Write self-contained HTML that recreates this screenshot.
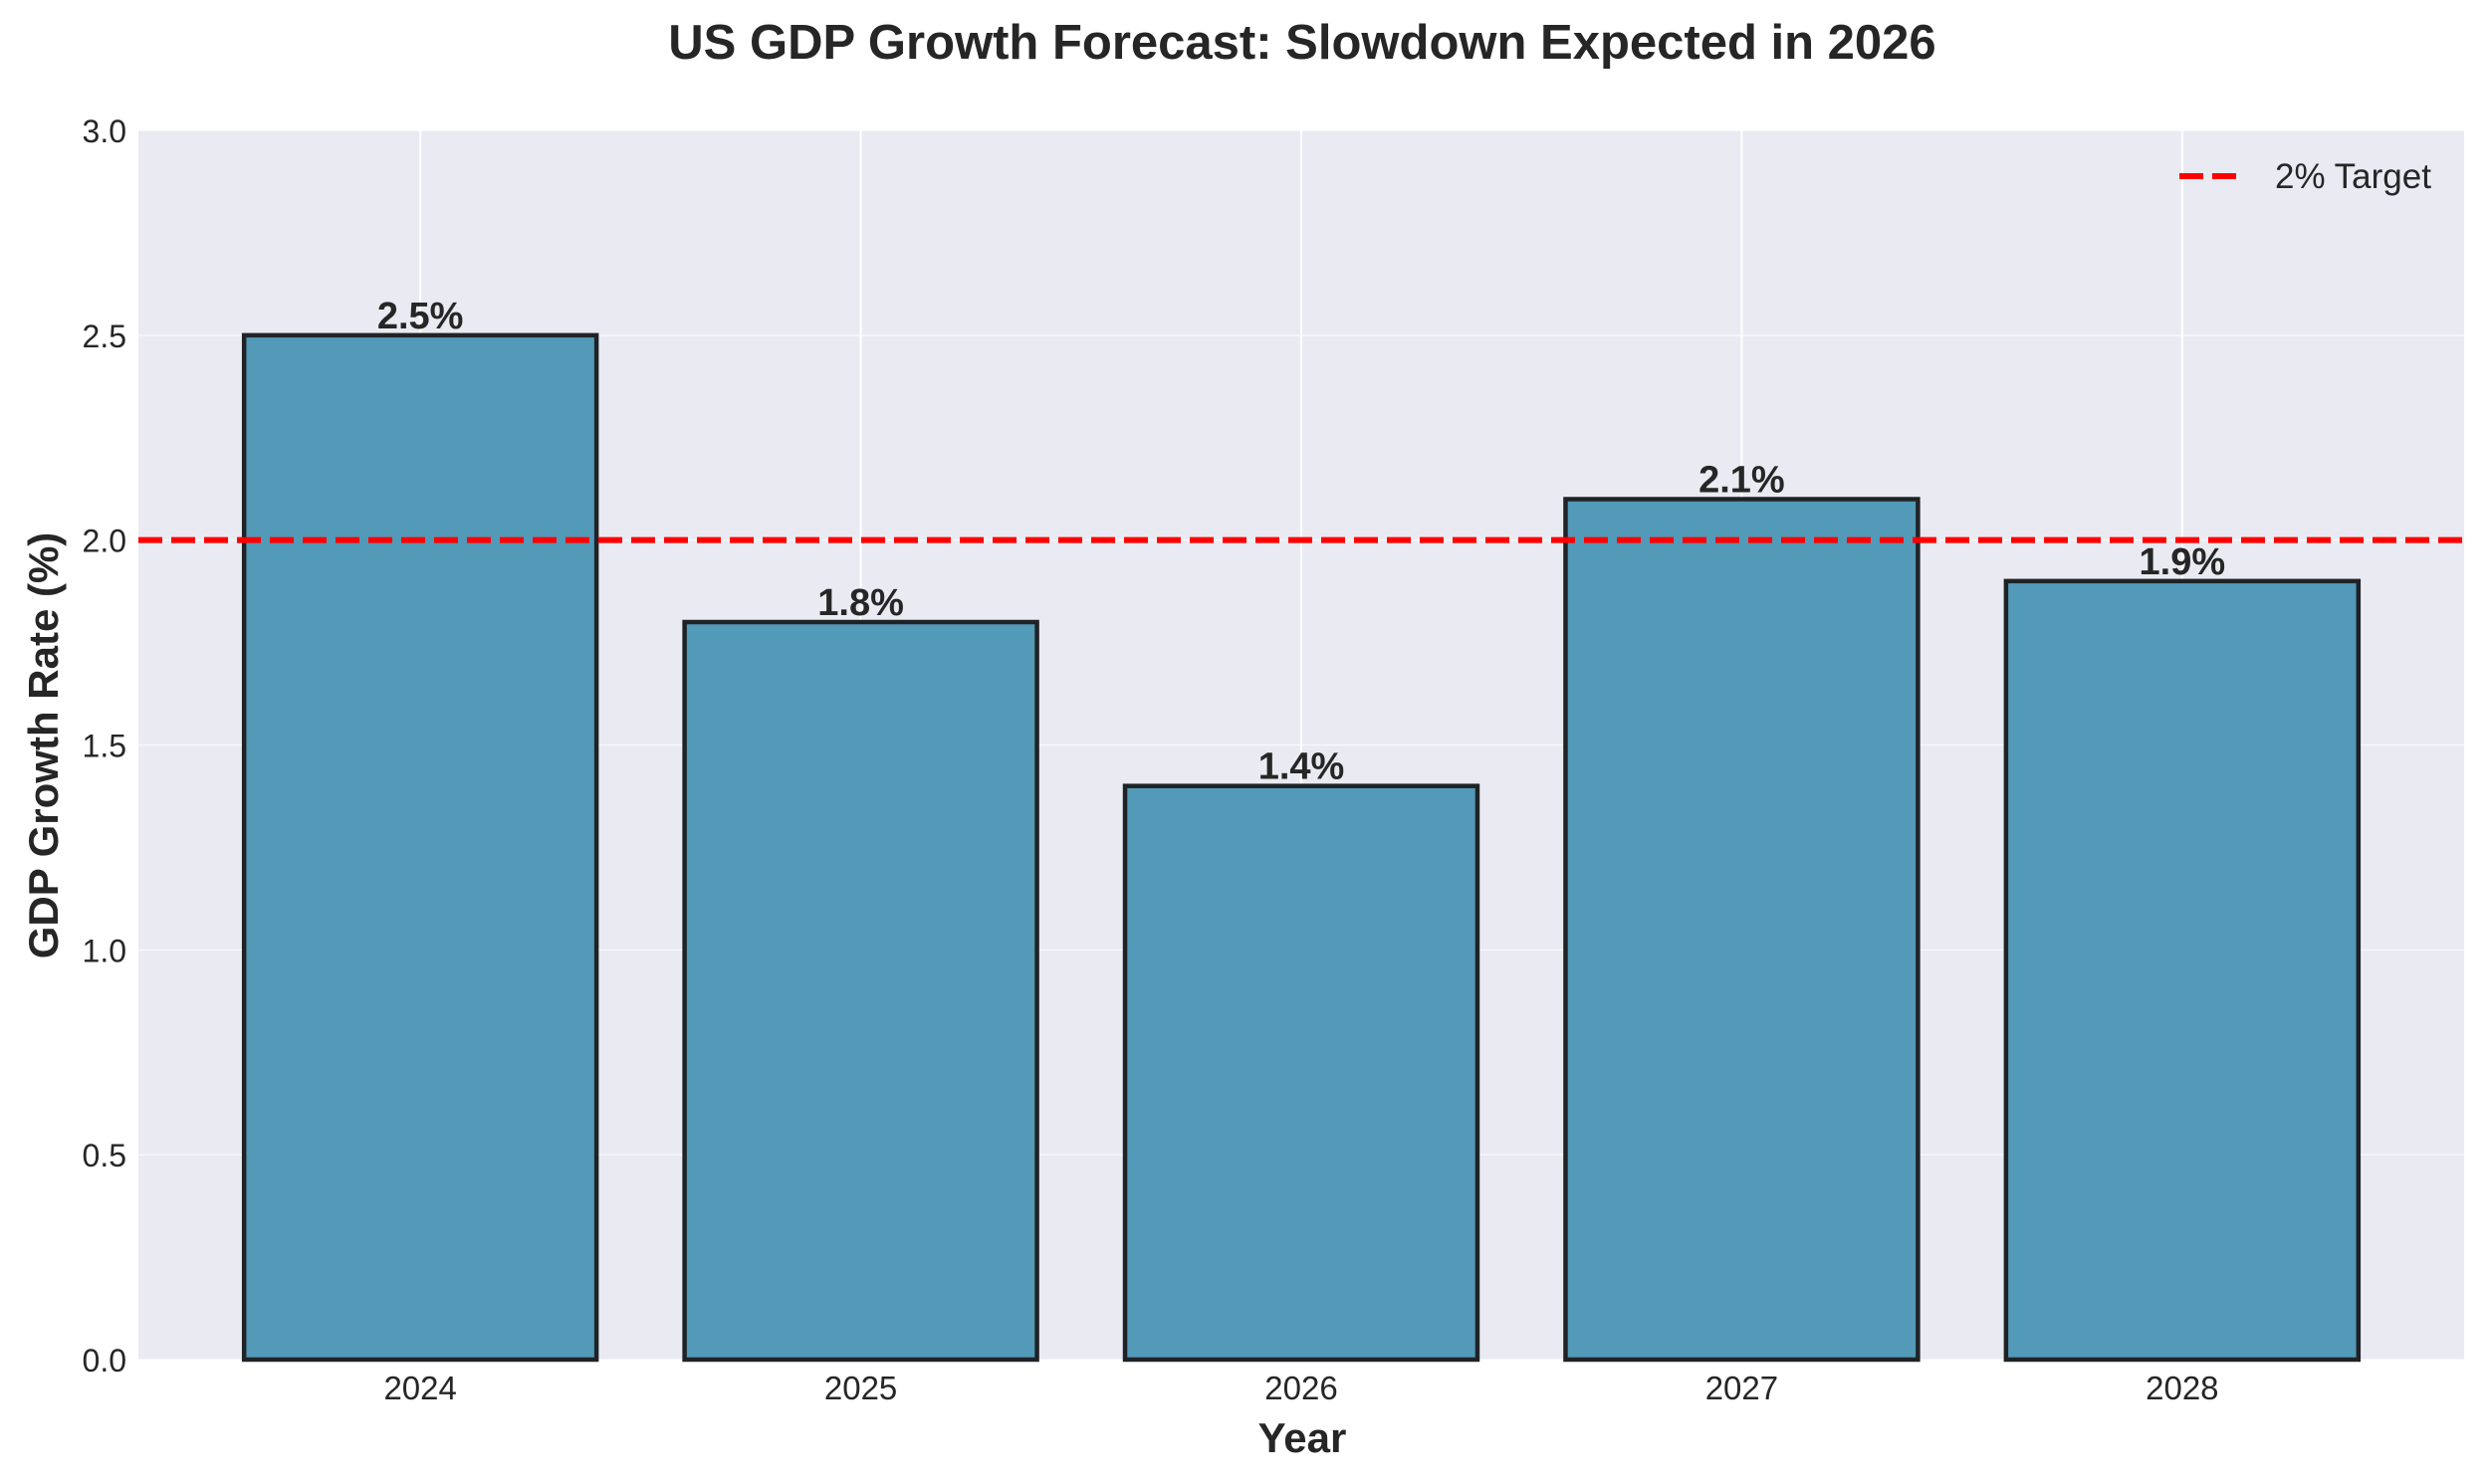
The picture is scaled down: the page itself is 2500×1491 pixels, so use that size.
<!DOCTYPE html>
<html><head><meta charset="utf-8"><style>
html,body{margin:0;padding:0;background:#fff;}
svg{display:block;font-family:"Liberation Sans",Arial,sans-serif;}
</style></head><body>
<svg id="chart" width="2500" height="1491" viewBox="0 0 2500 1491">
<text x="1308" y="59" text-anchor="middle" font-size="49" font-weight="bold" fill="#262626">US GDP Growth Forecast: Slowdown Expected in 2026</text>
<rect x="139" y="131" width="2336" height="1235" fill="#EAEAF2"/>
<g id="grid"></g>
<g id="bars"></g>
<g id="labels"></g>
<g id="axes"></g>
<line id="target" stroke="#FF0000" stroke-width="6" stroke-dasharray="24,9"/>
<g>
<line x1="2189" y1="177" x2="2250" y2="177" stroke="#FF0000" stroke-width="6" stroke-dasharray="24,9"/>
<text x="2285" y="189" font-size="35" fill="#262626">2% Target</text>
</g>
<text x="1308" y="1459" text-anchor="middle" font-size="42" font-weight="bold" fill="#262626">Year</text>
<text transform="translate(58,749) rotate(-90)" text-anchor="middle" font-size="42" font-weight="bold" fill="#262626">GDP Growth Rate (%)</text>
</svg>
<script>
const categories = ["2024","2025","2026","2027","2028"];
const values = [2.5, 1.8, 1.4, 2.1, 1.9];
const yTicks = [0, 0.5, 1.0, 1.5, 2.0, 2.5, 3.0];
const targetValue = 2.0;

const NS = "http://www.w3.org/2000/svg";
const L = 139, R = 2475, T = 131, B = 1366;
const xMin = -0.64, xMax = categories.length - 1 + 0.64;
const yMin = 0, yMax = 3;
const xs = i => L + (i - xMin) / (xMax - xMin) * (R - L);
const ys = v => B - (v - yMin) / (yMax - yMin) * (B - T);
function mk(tag, attrs, parent){const e=document.createElementNS(NS,tag);for(const k in attrs)e.setAttribute(k,attrs[k]);parent.appendChild(e);return e;}
const grid=document.getElementById('grid'), bars=document.getElementById('bars'), labels=document.getElementById('labels'), axes=document.getElementById('axes');

yTicks.forEach(v=>{
  const y=ys(v);
  const g=mk('line',{x1:L,x2:R,y1:y,y2:y,stroke:'#FFFFFF','stroke-width':1.5,'stroke-opacity':0.6},grid);
  
  
  const t=mk('text',{x:L-12,y:y+12,'text-anchor':'end','font-size':32,fill:'#262626'},axes);
  t.textContent=v.toFixed(1);
  
  
});
categories.forEach((c,i)=>{
  const x=xs(i);
  const g=mk('line',{x1:x,x2:x,y1:T,y2:B,stroke:'#FFFFFF','stroke-width':2},grid);
  
  
  const x0=xs(i-0.4), x1=xs(i+0.4), y=ys(values[i]);
  const r=mk('rect',{x:x0,y:y,width:x1-x0,height:B-y,fill:'#5399B8',stroke:'#1f2326','stroke-width':4.5},bars);
  
  
  const lt=mk('text',{x:x,y:y-7,'text-anchor':'middle','font-size':38,'font-weight':'bold',fill:'#262626'},labels);
  lt.textContent=values[i].toFixed(1)+'%';
  
  
  const t=mk('text',{x:x,y:B+40,'text-anchor':'middle','font-size':33,fill:'#262626'},axes);
  t.textContent=c;
  
  
});
const tl=document.getElementById('target');
tl.setAttribute('x1',L);tl.setAttribute('x2',R);
tl.setAttribute('y1',ys(targetValue));tl.setAttribute('y2',ys(targetValue));
</script>
</body></html>
